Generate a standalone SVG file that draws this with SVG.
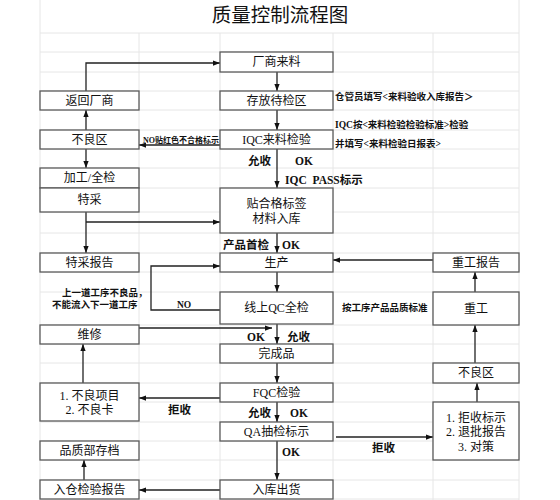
<svg xmlns="http://www.w3.org/2000/svg" width="560" height="500" viewBox="0 0 560 500">
<defs>
<marker id="ah" viewBox="0 0 8 6" refX="8" refY="3" markerWidth="7" markerHeight="5.5" markerUnits="userSpaceOnUse" orient="auto">
<path d="M0,0 L8,3 L0,6 Z" fill="#111"/>
</marker>
<style>
.grid line{stroke:#e6e6e6;stroke-width:1}
.box rect{fill:#fff;stroke:#5a5a5a;stroke-width:1.3}
.bt{font-family:"Liberation Serif","Noto Sans CJK SC",serif;font-size:12px;fill:#111;text-anchor:middle;dominant-baseline:central}
.lb{font-family:"Liberation Serif","Noto Sans CJK SC",serif;font-size:11.5px;font-weight:bold;fill:#111;dominant-baseline:central}
.sm{font-family:"Liberation Serif","Noto Sans CJK SC",serif;font-size:9.5px;font-weight:bold;fill:#111;dominant-baseline:central}
.xs{font-family:"Liberation Serif","Noto Sans CJK SC",serif;font-size:8px;font-weight:bold;fill:#111;dominant-baseline:central}
.conn path{fill:none;stroke:#222;stroke-width:1.3;marker-end:url(#ah)}
</style>
</defs>
<rect width="560" height="500" fill="#fff"/>
<g class="grid">
<line x1="40" y1="0" x2="40" y2="500"/>
<line x1="519" y1="0" x2="519" y2="500"/>
<line x1="139" y1="33" x2="139" y2="500"/>
<line x1="220" y1="33" x2="220" y2="500"/>
<line x1="333" y1="33" x2="333" y2="500"/>
<line x1="433" y1="33" x2="433" y2="500"/>
<line x1="40" y1="33" x2="519" y2="33"/>
<line x1="40" y1="52" x2="519" y2="52"/>
<line x1="40" y1="72" x2="519" y2="72"/>
<line x1="40" y1="91" x2="519" y2="91"/>
<line x1="40" y1="110" x2="519" y2="110"/>
<line x1="40" y1="130" x2="519" y2="130"/>
<line x1="40" y1="149" x2="519" y2="149"/>
<line x1="40" y1="168" x2="519" y2="168"/>
<line x1="40" y1="188" x2="519" y2="188"/>
<line x1="40" y1="212" x2="519" y2="212"/>
<line x1="40" y1="233" x2="519" y2="233"/>
<line x1="40" y1="253" x2="519" y2="253"/>
<line x1="40" y1="272" x2="519" y2="272"/>
<line x1="40" y1="292" x2="519" y2="292"/>
<line x1="40" y1="325" x2="519" y2="325"/>
<line x1="40" y1="344" x2="519" y2="344"/>
<line x1="40" y1="363" x2="519" y2="363"/>
<line x1="40" y1="383" x2="519" y2="383"/>
<line x1="40" y1="402" x2="519" y2="402"/>
<line x1="40" y1="422" x2="519" y2="422"/>
<line x1="40" y1="441" x2="519" y2="441"/>
<line x1="40" y1="460" x2="519" y2="460"/>
<line x1="40" y1="480" x2="519" y2="480"/>
<line x1="40" y1="499" x2="519" y2="499"/>
</g>
<text x="280" y="15" font-family="Liberation Serif,'Noto Sans CJK SC',serif" font-size="19.5" text-anchor="middle" dominant-baseline="central" fill="#111">质量控制流程图</text>

<g class="conn">
<path d="M86,91 V63 H220"/>
<path d="M277,72 V91"/>
<path d="M277,110 V130"/>
<path d="M220,145 H139"/>
<path d="M86,130 V110"/>
<path d="M86,149 V168"/>
<path d="M277,149 V188"/>
<path d="M86,212 V253"/>
<path d="M86,222 H220"/>
<path d="M277,233 V253"/>
<path d="M433,260 H333"/>
<path d="M475,292 V272"/>
<path d="M277,272 V292"/>
<path d="M220,310 H151 V266 H220"/>
<path d="M139,328 H272"/>
<path d="M277,324 V344"/>
<path d="M277,363 V383"/>
<path d="M220,398 H139"/>
<path d="M83,383 V344"/>
<path d="M277,402 V422"/>
<path d="M336,437 H433"/>
<path d="M277,441 V480"/>
<path d="M220,490 H139"/>
<path d="M84,480 V460"/>
<path d="M477,402 V383"/>
<path d="M475,363 V325"/>
</g>

<g id="n-changshang" class="box"><rect x="220" y="52" width="113" height="20"/><text class="bt" x="276.5" y="62">厂商来料</text></g>
<g id="n-fanhui" class="box"><rect x="40" y="91" width="99" height="19"/><text class="bt" x="89.5" y="100.5">返回厂商</text></g>
<g id="n-cunfang" class="box"><rect x="220" y="91" width="113" height="19"/><text class="bt" x="276.5" y="100.5">存放待检区</text></g>
<g id="n-buliang1" class="box"><rect x="40" y="130" width="99" height="19"/><text class="bt" x="89.5" y="139.5">不良区</text></g>
<g id="n-iqc" class="box"><rect x="220" y="130" width="113" height="19"/><text class="bt" x="276.5" y="139.5">IQC来料检验</text></g>
<g id="n-jiagong" class="box"><rect x="40" y="168" width="99" height="20"/><text class="bt" x="89.5" y="178">加工/全检</text></g>
<g id="n-tecai" class="box"><rect x="40" y="188" width="99" height="24"/><text class="bt" x="89.5" y="200">特采</text></g>
<g id="n-tiehege" class="box"><rect x="220" y="188" width="113" height="45"/><text class="bt" x="276.5" y="204">贴合格标签</text><text class="bt" x="276.5" y="219">材料入库</text></g>
<g id="n-tecaibaogao" class="box"><rect x="40" y="253" width="99" height="19"/><text class="bt" x="89.5" y="262.5">特采报告</text></g>
<g id="n-shengchan" class="box"><rect x="220" y="253" width="113" height="19"/><text class="bt" x="276.5" y="262.5">生产</text></g>
<g id="n-chonggongbaogao" class="box"><rect x="433" y="253" width="86" height="19"/><text class="bt" x="476" y="262.5">重工报告</text></g>
<g id="n-xianshang" class="box"><rect x="220" y="292" width="113" height="32"/><text class="bt" x="276.5" y="308">线上QC全检</text></g>
<g id="n-chonggong" class="box"><rect x="433" y="292" width="86" height="33"/><text class="bt" x="476" y="308.5">重工</text></g>
<g id="n-weixiu" class="box"><rect x="40" y="325" width="99" height="19"/><text class="bt" x="89.5" y="334.5">维修</text></g>
<g id="n-wancheng" class="box"><rect x="220" y="344" width="113" height="19"/><text class="bt" x="276.5" y="353.5">完成品</text></g>
<g id="n-buliang2" class="box"><rect x="433" y="363" width="86" height="20"/><text class="bt" x="476" y="373">不良区</text></g>
<g id="n-fqc" class="box"><rect x="220" y="383" width="113" height="19"/><text class="bt" x="276.5" y="392.5">FQC检验</text></g>
<g id="n-buliangxiangmu" class="box"><rect x="40" y="383" width="99" height="38"/><text class="bt" x="89.5" y="396">1. 不良项目</text><text class="bt" x="89.5" y="410">2. 不良卡</text></g>
<g id="n-qa" class="box"><rect x="220" y="422" width="113" height="19"/><text class="bt" x="276.5" y="431.5">QA抽检标示</text></g>
<g id="n-jushou" class="box"><rect x="433" y="402" width="86" height="58"/><text class="bt" x="476" y="418">1. 拒收标示</text><text class="bt" x="476" y="432">2. 退批报告</text><text class="bt" x="476" y="447">3. 对策</text></g>
<g id="n-pinzhi" class="box"><rect x="40" y="441" width="99" height="19"/><text class="bt" x="89.5" y="450.5">品质部存档</text></g>
<g id="n-rucang" class="box"><rect x="40" y="480" width="99" height="19"/><text class="bt" x="89.5" y="490">入仓检验报告</text></g>
<g id="n-ruku" class="box"><rect x="220" y="480" width="113" height="19"/><text class="bt" x="276.5" y="489.5">入库出货</text></g>

<g id="labels">
<text class="sm" x="335" y="97">仓管员填写&lt;来料验收入库报告＞</text>
<text class="sm" x="335" y="125">IQC按&lt;来料检验检验标准&gt;检验</text>
<text class="sm" x="335" y="144">并填写&lt;来料检验日报表&gt;</text>
<text class="xs" x="143" y="140.5">NO贴红色不合格标示</text>
<text class="lb" x="248" y="161">允收</text>
<text class="lb" x="295" y="161">OK</text>
<text class="lb" x="285" y="180" xml:space="preserve">IQC  PASS标示</text>
<text class="lb" x="223" y="245">产品首检</text>
<text class="lb" x="282" y="245">OK</text>
<text class="sm" x="62" y="293">上一道工序不良品，</text>
<text class="sm" x="52" y="305">不能流入下一道工序</text>
<text class="sm" x="177" y="305">NO</text>
<text class="sm" x="342" y="308">按工序产品品质标准</text>
<text class="lb" x="247" y="337">OK</text>
<text class="lb" x="287" y="337">允收</text>
<text class="lb" x="168" y="410">拒收</text>
<text class="lb" x="248" y="413">允收</text>
<text class="lb" x="290" y="413">OK</text>
<text class="lb" x="372" y="448">拒收</text>
<text class="lb" x="282" y="452">OK</text>
</g>
</svg>
